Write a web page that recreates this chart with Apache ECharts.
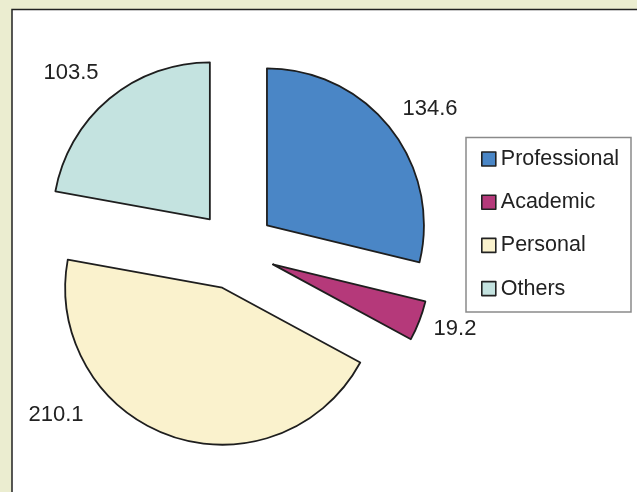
<!DOCTYPE html>
<html>
<head>
<meta charset="utf-8">
<script src="https://cdn.jsdelivr.net/npm/echarts@6/dist/echarts.min.js"></script>
<style>
html,body{margin:0;padding:0;background:#EBEDD0;}
#c{width:637px;height:492px;}
</style>
</head>
<body>
<div id="c"></div>
<script>
var categories = ['Professional', 'Academic', 'Personal', 'Others'];
var values = [134.6, 19.2, 210.1, 103.5];
var colors = ['#4A86C6', '#B5397A', '#FAF2CD', '#C4E3E0'];
var labelPos = [[430, 109], [455, 329], [56, 415], [71, 73]];

var chart = echarts.init(document.getElementById('c'), null, {renderer: 'canvas'});
var data = categories.map(function (n, i) {
  return {name: n, value: values[i], selected: true, itemStyle: {color: colors[i]}};
});
var graphics = [
  {type: 'rect', z: -10, shape: {x: 12, y: 9.5, width: 700, height: 600},
    style: {fill: '#ffffff', stroke: '#222222', lineWidth: 1.5}},
  {type: 'rect', z: -5, shape: {x: 466, y: 137.5, width: 165, height: 174.5},
    style: {fill: '#ffffff', stroke: '#8a8a8a', lineWidth: 1.5}}
];
values.forEach(function (v, i) {
  graphics.push({
    type: 'text', z: 10, x: labelPos[i][0], y: labelPos[i][1],
    style: {text: String(v), fill: '#222222', font: '22px "Liberation Sans", Arial, sans-serif',
      textAlign: 'center', textVerticalAlign: 'middle'}
  });
});
chart.setOption({
  animation: false,
  backgroundColor: '#EBEDD0',
  graphic: graphics,
  legend: {
    orient: 'vertical',
    left: 476,
    top: 143,
    itemWidth: 14,
    itemHeight: 14,
    itemGap: 21.2,
    icon: 'rect',
    selectedMode: false,
    itemStyle: {borderColor: '#222222', borderWidth: 1.6},
    textStyle: {fontFamily: 'Liberation Sans, Arial, sans-serif', fontSize: 21.5, color: '#222222'},
    data: categories
  },
  series: [{
    type: 'pie',
    center: [235.5, 250],
    radius: 157,
    startAngle: 90,
    clockwise: true,
    selectedMode: 'multiple',
    selectedOffset: 40,
    emphasis: {disabled: true},
    itemStyle: {borderColor: '#1e1e1e', borderWidth: 1.8},
    label: {show: false},
    labelLine: {show: false},
    data: data
  }]
});
</script>
</body>
</html>
